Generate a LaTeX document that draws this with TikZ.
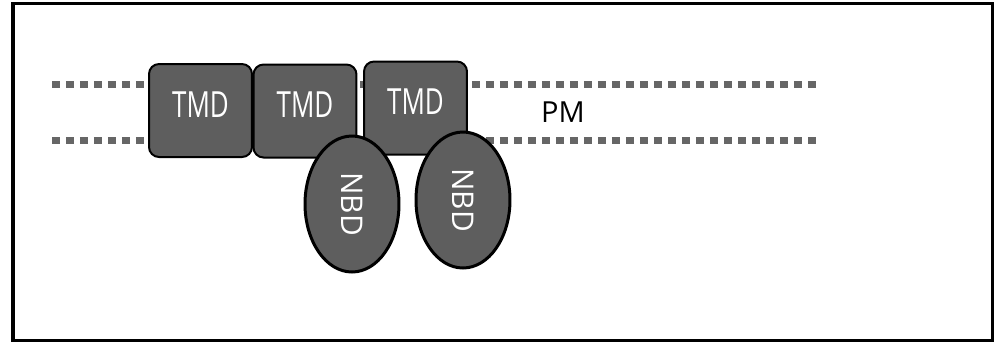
\documentclass[tikz,border=0pt]{standalone}
\usepackage{fontspec}
\setmainfont{Open Sans}
\usetikzlibrary{shapes.geometric}

\definecolor{domgray}{HTML}{5E5E5E}
\definecolor{dotgray}{HTML}{666666}

\tikzset{
every picture/.style={
line width=1pt
},
tmd/.style={draw, fill=domgray, line width=0.04cm, rounded corners=0.2cm,
  minimum width=2.06cm, minimum height=1.86cm, inner sep=0pt},
nbd/.style={draw, fill=domgray, ellipse, line width=0.06cm, rotate=-90,
  minimum width=2.72cm, minimum height=1.88cm, inner sep=0pt,
  text=white, font=\fontsize{17}{20}\selectfont},
tmdtext/.style={text=white, xscale=0.72, yshift=0.12cm,
  font=\fontsize{20.5}{24}\selectfont},
membrane/.style={dotgray, line width=0.14cm, dash pattern=on 0.16cm off 0.12cm}
}

\begin{document}
\begin{tikzpicture}[x=0.02cm, y=-0.02cm]
\useasboundingbox (0,0) rectangle (994,343);
\draw[line width=0.07cm] (13,3.5) rectangle (992.5,340.5);

% both leaflets of the membrane
\foreach \y in {84, 140}{
  \draw[membrane] (52,\y) -- (818,\y);
}
\node[font=\fontsize{16.5}{20}\selectfont] (pm) at (563,112) {PM};

% transmembrane domains
\foreach \x/\y [count=\i] in {200.5/110.5, 305/111, 415.5/108}{
  \node[tmd, label={[tmdtext]center:TMD}] (tmd\i) at (\x,\y) {};
}

% nucleotide binding domains
\node[nbd] (nbd1) at (352,204) {NBD};
\node[nbd] (nbd2) at (463,200) {NBD};
\end{tikzpicture}
\end{document}
